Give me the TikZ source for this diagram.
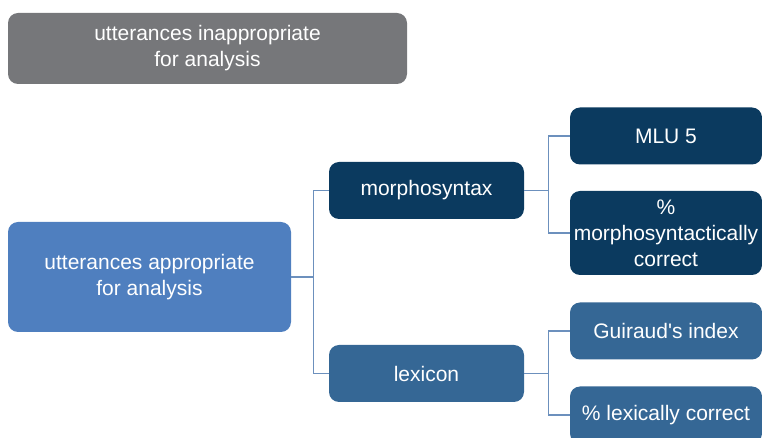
\documentclass[tikz,border=0pt]{standalone}
\usepackage{fontspec}
\setmainfont{Liberation Sans}
\usepackage{xcolor}
\usetikzlibrary{positioning}

\definecolor{greybox}{HTML}{76777A}
\definecolor{lightblue}{HTML}{4F7FBF}
\definecolor{navy}{HTML}{0B3A5F}
\definecolor{midblue}{HTML}{356795}
\definecolor{linkblue}{HTML}{6C90BD}

\begin{document}
\begin{tikzpicture}[
    x=0.5pt, y=-0.5pt,
    box/.style={rectangle, rounded corners=5pt, text=white, align=center, inner sep=0pt, font=\fontsize{10.5}{13}\selectfont},
    skip/.style={box, fill=greybox, minimum width=199.5pt, minimum height=35.5pt},
    appr/.style={box, fill=lightblue, minimum width=141.5pt, minimum height=55pt},
    dark/.style={box, fill=navy, minimum width=97.5pt, minimum height=28.5pt},
    mid/.style={box, fill=midblue, minimum width=97.5pt, minimum height=28.5pt},
    leaf/.style={box, minimum width=96pt, minimum height=28.5pt},
    link/.style={draw=linkblue, line width=0.6pt}
]
    \clip (0,0) rectangle (762,438);

    \node[skip] (inappr) at (207.5,48.5) {utterances inappropriate\\for analysis};
    \node[appr] (appr) at (149.5,277) {utterances appropriate\\for analysis};

    \node[dark] (morph) at (426.5,190.5) {morphosyntax};
    \node[mid] (lex) at (426.5,373.5) {lexicon};

    \node[leaf, fill=navy] (mlu) at (666,136) {MLU 5};
    \node[leaf, fill=navy, minimum height=42pt] (pmorph) at (666,233) {\%\\morphosyntactically\\correct};
    \node[leaf, fill=midblue] (guir) at (666,331) {Guiraud\textquotesingle s index};
    \node[leaf, fill=midblue] (plex) at (666,415) {\% lexically correct};

    % tree connectors
    \draw[link] (appr.east) -- ++(22,0) |- (morph.west);
    \draw[link] (appr.east) -- ++(22,0) |- (lex.west);
    \draw[link] (morph.east) -- ++(24,0) |- (mlu.west);
    \draw[link] (morph.east) -- ++(24,0) |- (pmorph.west);
    \draw[link] (lex.east) -- ++(24,0) |- (guir.west);
    \draw[link] (lex.east) -- ++(24,0) |- (plex.west);
\end{tikzpicture}
\end{document}
